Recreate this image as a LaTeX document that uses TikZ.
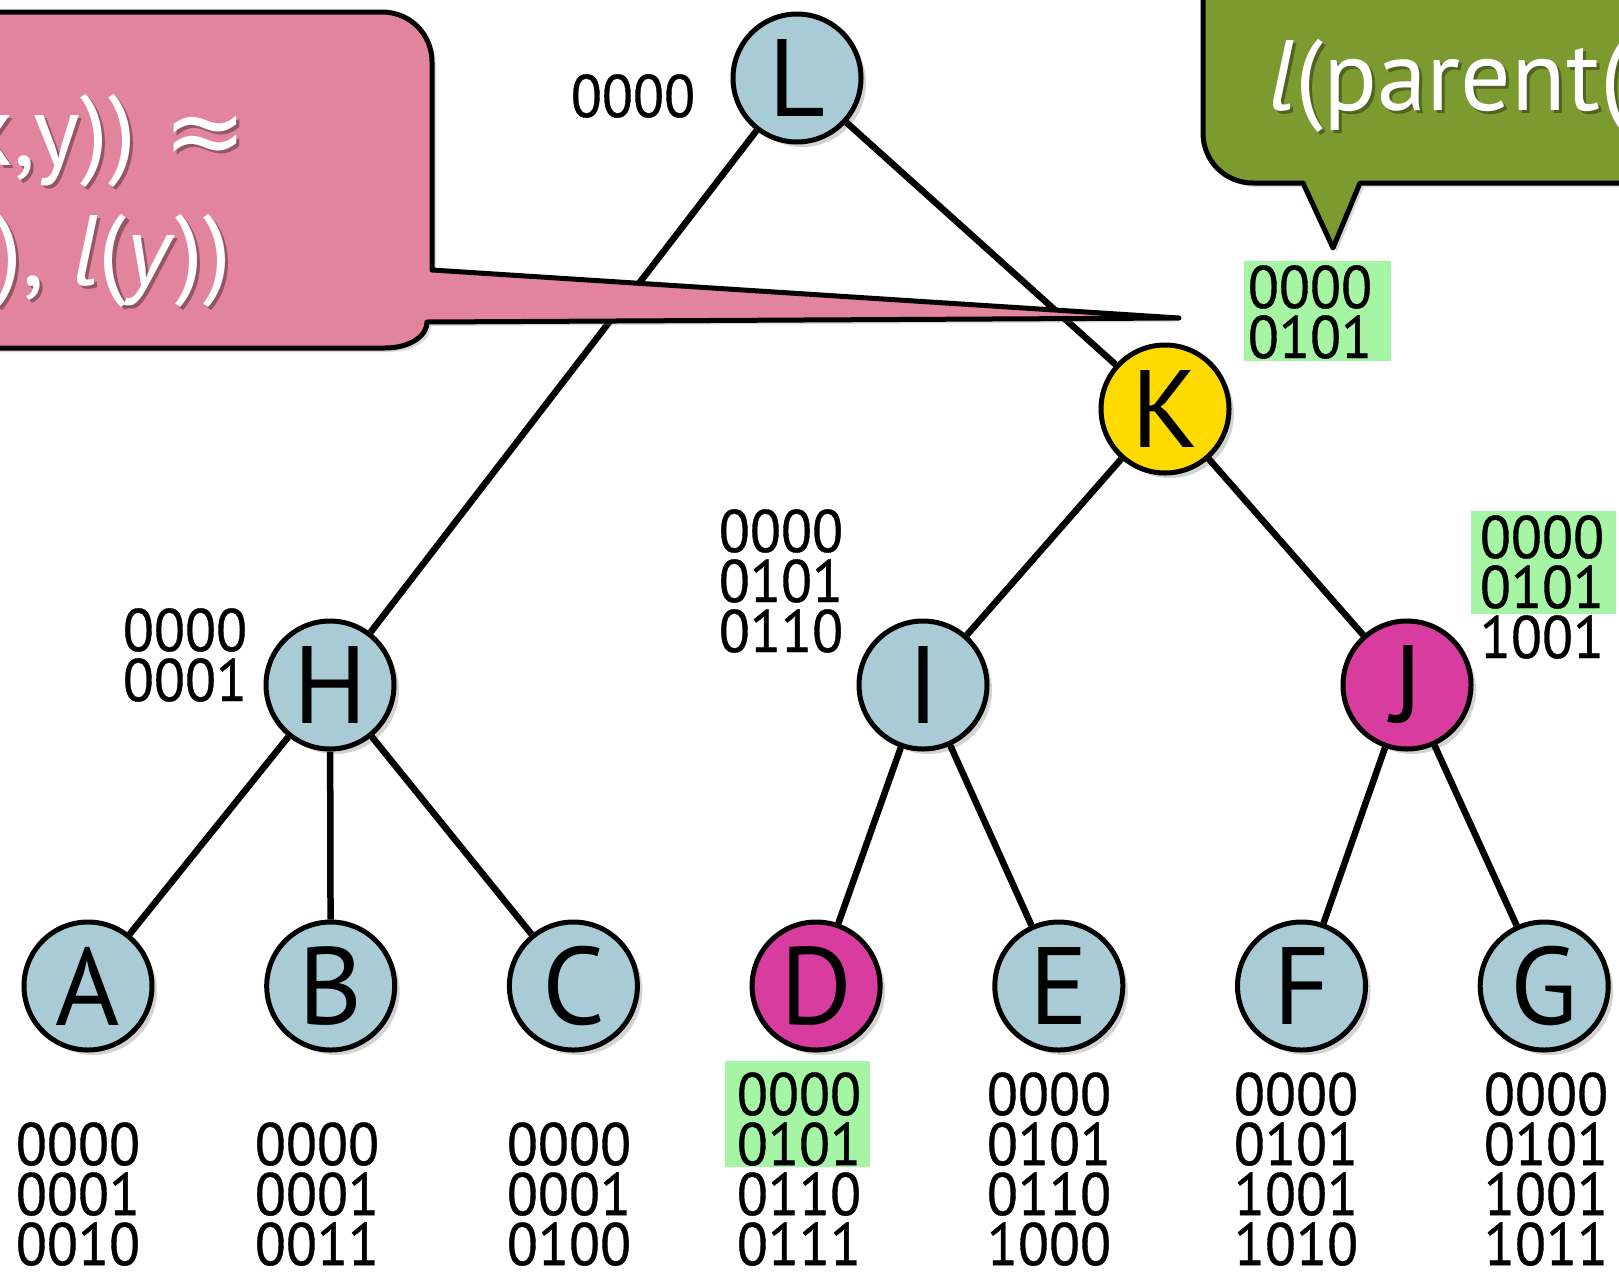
\documentclass[tikz,border=0pt]{standalone}
\usepackage{fontspec}
\setmainfont{PT Sans}
\newfontfamily\bitsfont[FakeStretch=0.95,FakeBold=0.6]{PT Sans}
\newfontfamily\mathsymfont{DejaVu Sans}
\usepackage{tikz}
\usetikzlibrary{arrows,positioning,shadows}
\definecolor{treeblue}{HTML}{A8CBD5}
\definecolor{rootyellow}{HTML}{FFDA00}
\definecolor{pickpink}{HTML}{D83C9E}
\definecolor{callpink}{HTML}{E3849F}
\definecolor{callgreen}{HTML}{7B9B31}
\definecolor{bitgreen}{HTML}{A5F5A5}
\tikzset{
    %Define style for tree nodes
    vertex/.style={
           circle,
           draw=black, line width=5pt,
           minimum size=128pt,
           inner sep=0pt,
           font=\fontsize{110}{110}\selectfont,
           fill=treeblue,
           drop shadow={shadow xshift=5pt, shadow yshift=-5pt, opacity=.35}},
    %Define style for bit labels
    bits/.style={
           align=center,
           inner sep=0pt,
           font=\bitsfont\fontsize{60}{50}\selectfont},
    hl/.style={fill=bitgreen},
    % Define style for callouts
    callout/.style={
           draw=black, line width=5pt, line join=round,
           drop shadow={shadow xshift=4pt, shadow yshift=-4pt, opacity=.3}},
    calltext/.style={text=white, inner sep=0pt, font=\fontsize{100}{100}\selectfont},
    callshade/.style={text=black, opacity=.35, inner sep=0pt, font=\fontsize{100}{100}\selectfont},
    % Define edge style
    tree/.style={draw=black, line width=6.5pt}
}

\begin{document}
\begin{tikzpicture}[x=1pt,y=-1pt,node distance=242.7pt,on grid]
\useasboundingbox (0,0) rectangle (1619,1275);
\clip (0,0) rectangle (1619,1275);
% highlighted prefixes
\fill[hl] (1244,261) rectangle (1391,361);
\fill[hl] (1471,511) rectangle (1616,614);
\fill[hl] (725,1061) rectangle (870,1167);
% tree
\node[vertex](L) at (797,78){L};
\node[vertex, fill=rootyellow](K) at (1165,409){K};
\node[vertex](H) at (330,685){H};
\node[vertex](I) at (923,685){I};
\node[vertex, fill=pickpink](J) at (1407,685){J};
\node[vertex](A) at (88,986){A};
\node[vertex, right=of A](B){B};
\node[vertex, right=of B](C){C};
\node[vertex, fill=pickpink, right=of C](D){D};
\node[vertex, right=of D](E){E};
\node[vertex, right=of E](F){F};
\node[vertex, right=of F](G){G};
\draw[tree] (L) -- (H);
\draw[tree] (L) -- (K);
\draw[tree] (K) -- (I);
\draw[tree] (K) -- (J);
\draw[tree] (H) -- (A);
\draw[tree] (H) -- (B);
\draw[tree] (H) -- (C);
\draw[tree] (I) -- (D);
\draw[tree] (I) -- (E);
\draw[tree] (J) -- (F);
\draw[tree] (J) -- (G);
% labels
\node[bits](bL) at (633,96){0000};
\node[bits](bK) at (1310,312){0000\\0101};
\node[bits](bH) at (185,655){0000\\0001};
\node[bits](bI) at (781,581){0000\\0101\\0110};
\node[bits](bJ) at (1542,587){0000\\0101\\1001};
\node[bits, anchor=south](bA) at (78,1266){0000\\0001\\0010};
\node[bits, anchor=south](bB) at (317,1266){0000\\0001\\0011};
\node[bits, anchor=south](bC) at (569,1266){0000\\0001\\0100};
\node[bits, anchor=south](bD) at (799,1266){0000\\0101\\0110\\0111};
\node[bits, anchor=south](bE) at (1049,1266){0000\\0101\\0110\\1000};
\node[bits, anchor=south](bF) at (1296,1266){0000\\0101\\1001\\1010};
\node[bits, anchor=south](bG) at (1546,1266){0000\\0101\\1001\\1011};
% callouts
\path[callout, fill=callpink] (-80,12) -- (382,12) .. controls (410,12) and (432,34) .. (432,62)
	-- (432,270) -- (1179,318) -- (427,322) .. controls (427,336) and (410,348) .. (385,348)
	-- (-80,348) -- cycle;
\path[callout, fill=callgreen] (1203,-80) -- (1203,133) .. controls (1203,161) and (1225,183) .. (1253,183)
	-- (1303,183) -- (1333,248) -- (1360,183) -- (1700,183) -- (1700,-80) -- cycle;
\node[callshade, anchor=base east](s1) at (250,168){x,y)) {\mathsymfont≈}};
\node[calltext, anchor=base east](t1) at (247,165){x,y)) {\mathsymfont≈}};
\node[callshade, anchor=base east](s2) at (235,288){), \textit{l}(\textit{y}))};
\node[calltext, anchor=base east](t2) at (232,285){), \textit{l}(\textit{y}))};
\node[callshade, anchor=base west](s3) at (1271,113){\textit{l}(parent(};
\node[calltext, anchor=base west](t3) at (1268,110){\textit{l}(parent(};
\end{tikzpicture}
\end{document}
